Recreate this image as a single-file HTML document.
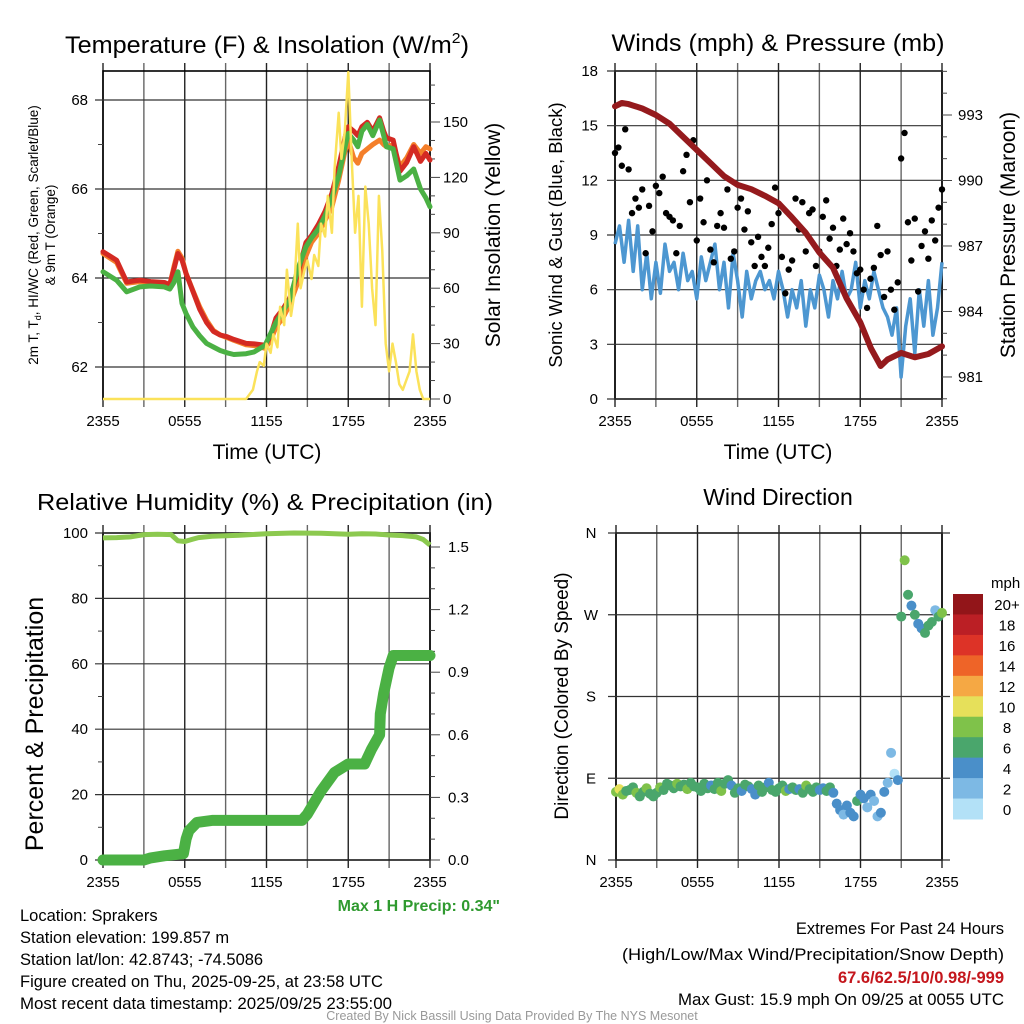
<!DOCTYPE html>
<html><head><meta charset="utf-8"><style>
html,body{margin:0;padding:0;background:#fff;}
svg{display:block;font-family:"Liberation Sans",sans-serif;}
</style></head><body>
<svg id="fig" width="1024" height="1024" viewBox="0 0 1024 1024" xmlns="http://www.w3.org/2000/svg">
<g text-anchor="middle" fill="#000">
<text x="267" y="53" font-size="24" textLength="404" lengthAdjust="spacingAndGlyphs">Temperature (F) &amp; Insolation (W/m<tspan font-size="15" dy="-10">2</tspan><tspan dy="10">)</tspan></text>
<text x="778" y="51" font-size="24.5" textLength="333" lengthAdjust="spacingAndGlyphs">Winds (mph) &amp; Pressure (mb)</text>
<text x="265" y="510" font-size="23.5" textLength="456" lengthAdjust="spacingAndGlyphs">Relative Humidity (%) &amp; Precipitation (in)</text>
<text x="778" y="505" font-size="23">Wind Direction</text>
</g>
<g font-size="16.5" fill="#000">
<text x="500" y="911" text-anchor="end" fill="#2f9a2f" font-weight="bold" font-size="16">Max 1 H Precip: 0.34"</text>
<text x="20" y="921">Location: Sprakers</text>
<text x="20" y="943">Station elevation: 199.857 m</text>
<text x="20" y="965">Station lat/lon: 42.8743; -74.5086</text>
<text x="20" y="987">Figure created on Thu, 2025-09-25, at 23:58 UTC</text>
<text x="20" y="1009" textLength="372" lengthAdjust="spacingAndGlyphs">Most recent data timestamp: 2025/09/25 23:55:00</text>
<text x="1004" y="934" text-anchor="end">Extremes For Past 24 Hours</text>
<text x="1004" y="960" text-anchor="end" textLength="382" lengthAdjust="spacingAndGlyphs">(High/Low/Max Wind/Precipitation/Snow Depth)</text>
<text x="1004" y="983" text-anchor="end" fill="#c4161c" font-weight="bold">67.6/62.5/10/0.98/-999</text>
<text x="1004" y="1005" text-anchor="end" textLength="326" lengthAdjust="spacingAndGlyphs">Max Gust: 15.9 mph On 09/25 at 0055 UTC</text>
<text x="512" y="1020" text-anchor="middle" font-size="12.5" fill="#999">Created By Nick Bassill Using Data Provided By The NYS Mesonet</text>
</g>
</svg>
<script>
// ---------- DATA ----------
const xTickLabels = ["2355","0555","1155","1755","2355"];
const tempTimes = [0,1,1.74,2.7,3.5,4.5,4.9,5.2,5.5,5.8,6.1,6.6,7.1,7.6,8.1,8.6,9.1,9.6,10.5,11.1,11.9,12.3,12.7,13.2,13.7,14.3,14.9,15.3,15.8,16.3,16.8,17.3,17.8,18,18.4,18.7,19,19.4,19.8,20.3,20.6,20.8,21.3,21.8,22.3,22.8,23.3,23.7,24];
const tempRed   = [64.59,64.4,63.91,63.95,63.92,63.9,63.85,64.2,64.55,64.4,64.1,63.7,63.3,63.0,62.8,62.72,62.68,62.62,62.53,62.52,62.49,62.7,63.1,63.3,63.55,64.1,64.8,64.95,65.2,65.5,65.9,66.5,67.2,67.4,67.3,67.2,67.4,67.5,67.3,67.6,67.3,67.15,67.1,66.4,66.6,66.95,66.62,66.8,66.65];
const tempOrange= [64.55,64.35,63.88,63.92,63.9,63.88,63.85,64.25,64.6,64.45,64.1,63.72,63.35,63.05,62.82,62.72,62.66,62.6,62.5,62.48,62.42,62.6,62.9,63.1,63.4,63.9,64.5,64.8,65.0,65.3,65.6,66.2,66.9,67.1,66.7,66.58,66.8,66.9,67.0,67.1,67.0,66.95,67.0,66.5,66.7,67.0,66.8,66.95,66.9];
const tempGreen = [64.14,63.95,63.69,63.8,63.82,63.8,63.75,63.9,64.14,63.43,63.2,62.9,62.7,62.53,62.45,62.37,62.32,62.28,62.3,62.34,62.49,62.75,63.0,63.25,63.5,64.2,64.7,64.9,65.1,65.4,65.8,66.3,67.0,67.25,67.1,66.95,67.3,67.45,67.2,67.55,67.2,66.95,66.9,66.2,66.3,66.45,66.0,65.8,65.6];
const solarTimes = [0,10.5,11,11.3,11.5,11.8,12,12.3,12.5,12.8,13,13.3,13.5,13.8,14,14.3,14.5,14.8,15,15.3,15.5,15.8,16,16.3,16.5,16.8,17,17.3,17.5,17.75,18,18.25,18.5,18.75,19,19.25,19.5,19.75,20,20.25,20.5,20.75,21,21.25,21.5,21.75,22,22.25,22.5,22.75,23,23.25,23.5,24];
const solarVals  = [0,0,5,15,20,18,30,25,35,28,50,40,70,45,55,95,60,70,75,65,78,72,95,88,110,90,125,155,130,145,177,130,90,110,50,115,95,60,40,110,80,30,15,30,20,8,5,10,15,35,15,5,0,0];
const windVals = [8.5,9.5,7.5,9.8,7,9.5,6,8,5.5,7.5,5.8,8.5,7,7.5,6,8,6.5,7,5.5,7.8,6.5,7.5,8.5,6,7.5,5,8,6.5,4.5,7,5.5,6.5,7,6,6.5,5.5,7,6,4.5,6,5,6.5,4,6,5,6.8,6,4.5,6.5,5.5,7,5.5,6,7.5,5,6.5,5.5,7,6,5,4.5,3.5,5,1.2,4,5.5,2.5,6,4,6.5,3.5,5,7.5];
const gustVals = [13.5,13.8,12.8,14.8,12.6,10.2,11,10.5,11.5,8,10.6,9.2,11.7,11.3,12.2,10.2,10,9.8,8,9.5,12.5,13.4,10.8,14.2,8.7,11,9.7,12,8.2,7.5,9.5,10.2,9.4,11.5,7.7,8.1,10.5,11,9.3,10.3,8.6,7.3,8.9,7.8,7.3,8.3,9.6,11.6,10.2,7.8,5.8,7.1,7.6,11,9.3,10.8,8.1,10.2,10.4,7.3,8.1,10,10.9,8.8,9.4,7.3,8.2,9.9,8.5,9.1,8.1,6.9,7.1,6,5,6.6,7.2,9.5,7.9,5.6,8.1,6,4.9,6.4,13.2,14.6,9.7,7.6,9.9,5.9,8.4,9.2,7.7,9.8,8.7,10.5,11.5];
const presTimes = [0,0.5,1,2,3,4,5,6,7,8,9,10,11,12,13,14,15,16,17,18,18.8,19.5,20,21,22,23,24];
const presVals  = [993.4,993.55,993.5,993.3,993.0,992.6,992.0,991.4,990.8,990.2,989.8,989.6,989.3,988.96,988.3,987.6,986.7,986.0,984.6,983.5,982.3,981.5,981.8,982.1,981.9,982.05,982.4];
const rhTimes = [0,1,2,3,4,5,5.5,6,6.5,7,8,10,12,14,16,18,19,20,21,22,23,23.5,24];
const rhVals  = [98.5,98.6,98.8,99.5,99.6,99.5,97.6,97.4,98.0,98.6,99.0,99.3,99.8,100,99.9,99.6,99.8,99.7,99.4,99.2,98.8,98,96.3];
const precipTimes = [0,3,3.5,4.5,5.9,6.1,6.3,6.9,8,12.5,14.6,15,16,17,18,19.2,19.7,20.3,20.35,20.6,21,21.3,24];
const precipVals  = [0,0,0.01,0.02,0.03,0.1,0.14,0.18,0.19,0.19,0.19,0.22,0.33,0.42,0.46,0.46,0.53,0.6,0.7,0.8,0.92,0.98,0.98];
const dirVals = [75,78,72,76,77,80,74,70,75,79,73,70,74,80,77,84,82,79,84,81,83,78,85,81,80,76,84,79,82,78,85,76,84,88,82,74,79,76,83,81,78,72,82,75,80,85,77,75,79,82,76,78,80,77,78,74,82,78,75,80,77,79,76,80,74,62,55,50,60,52,48,65,72,68,58,72,65,48,52,75,85,118,95,88,268,330,292,280,270,260,255,250,258,262,275,268,272];
const dirSpeeds = [8,10,9,7,7,6,8,7,6,8,7,6,6,8,7,6,7,6,8,7,6,8,7,6,7,6,7,6,4,7,6,8,7,6,4,6,7,4,6,7,4,5,6,7,6,5,7,6,7,6,8,4,6,7,5,6,8,6,6,7,4,5,6,7,4,5,4,3,4,5,4,6,4,5,2,4,2,3,5,4,2,2,1,4,6,8,7,4,6,5,4,7,6,7,3,6,8];
const legendLabels = ["20+","18","16","14","12","10","8","6","4","2","0"];
const legendColors = ["#921519","#bb1f25","#dd3327","#ee6428","#f5a844","#e6e05a","#7fc24a","#4aa66c","#4a8fc9","#7db9e4","#b3e1f7"];

// ---------- DRAWING ----------
const NS = "http://www.w3.org/2000/svg";
const fig = document.getElementById("fig");
function mk(tag, attrs, parent){ const e=document.createElementNS(NS,tag); for(const k in attrs) e.setAttribute(k,attrs[k]); (parent||fig).appendChild(e); return e; }
function txt(s, attrs, parent){ const e=mk("text",attrs,parent); e.textContent=s; return e; }
function pathFrom(ts, vs, fx, fy){ return ts.map((t,i)=>(i?"L":"M")+fx(t).toFixed(1)+" "+fy(vs[i]).toFixed(1)).join(""); }
function uniformTimes(n){ const a=[]; for(let i=0;i<n;i++) a.push(24*i/(n-1)); return a; }

function frame(g, x0, x1, y0, y1, name){
  for(let i=0;i<=8;i++){
    const x=x0+(x1-x0)*i/8;
    const l=mk("line",{x1:x,x2:x,y1:y0-8,y2:y1+8,stroke:(i%2==0)?"#222":"#666","stroke-width":1.4},g);
    
    
  }
  const r=mk("rect",{x:x0,y:y0,width:x1-x0,height:y1-y0,fill:"none",stroke:"#000","stroke-width":1.6},g);
  
  
  xTickLabels.forEach((s,i)=>{
    const t=txt(s,{x:x0+(x1-x0)*i/4,y:y1+27,"font-size":15,"text-anchor":"middle"},g);
    
    
  });
}
function hgrid(g,x0,x1,y,label,lx,anchor){
  const l=mk("line",{x1:x0-8,x2:x1,y1:y,y2:y,stroke:"#333","stroke-width":1.2},g);
  
  
  if(label!==null){
    const t=txt(label,{x:lx,y:y+5,"font-size":15,"text-anchor":anchor},g);
    
    
  }
}
function tick(g,x,y,len){ const l=mk("line",{x1:x,x2:x+len,y1:y,y2:y,stroke:"#444","stroke-width":1},g);
  
   }
function rtext(s,x,y,size,parent,name){
  const t=txt(s,{x:x,y:y,"font-size":size,"text-anchor":"middle",transform:`rotate(-90 ${x} ${y})`},parent);
  
  
  return t;
}

// ---- Panel 1: temperature ----
(function(){
  const g=mk("g",{});  
  const x0=103,x1=430,y0=71,y1=399;
  const fx=t=>x0+t/24*(x1-x0);
  const fy=v=>100+(68-v)*44.5;
  const fs=v=>y1-v*(y1-122)/150;
  frame(g,x0,x1,y0,y1,'temperature');
  [68,66,64,62].forEach(v=>hgrid(g,x0,x1,fy(v),String(v),88,"end"));
  [67,65,63].forEach(v=>tick(g,x0,fy(v),-5));
  [0,30,60,90,120,150].forEach(v=>{ tick(g,x1,fs(v),10); const t=txt(String(v),{x:443,y:fs(v)+5,"font-size":15},g);  });
  for(let v=10;v<=170;v+=10) if(v%30) tick(g,x1,fs(v),5);
  const lines=[[tempOrange,"#f47f2a","orange-9m-temp-line"],[tempRed,"#d42a23","red-2m-temp-line"],[tempGreen,"#4bb144","green-dewpoint-line"]];
  lines.forEach(([vals,c,n])=>{ const p=mk("path",{d:pathFrom(tempTimes,vals,fx,fy),fill:"none",stroke:c,"stroke-width":5,"stroke-linejoin":"round","stroke-linecap":"round"},g);
      });
  const s=mk("path",{d:pathFrom(solarTimes,solarVals,fx,fs),fill:"none",stroke:"#fbe25a","stroke-width":2.5,"stroke-linejoin":"round"},g);
   
  rtext("2m T, T",38,235,13.5,g,'left-y-axis-title-line1').innerHTML='2m T, T<tspan font-size="9" dy="3">d</tspan><tspan dy="-3">, HI/WC (Red, Green, Scarlet/Blue)</tspan>';
  rtext("& 9m T (Orange)",55,235,13.5,g,'left-y-axis-title-line2');
  rtext("Solar Insolation (Yellow)",500,235,21,g,'right-y-axis-title');
  const xt=txt("Time (UTC)",{x:267,y:459,"font-size":21,"text-anchor":"middle"},g);  
})();

// ---- Panel 2: winds ----
(function(){
  const g=mk("g",{});  
  const x0=615,x1=942,y0=71,y1=399;
  const fx=t=>x0+t/24*(x1-x0);
  const fy=v=>y1-v*(y1-y0)/18;
  const fp=p=>115+(993-p)*21.83;
  frame(g,x0,x1,y0,y1,'winds');
  [0,3,6,9,12,15,18].forEach(v=>hgrid(g,x0,x1,fy(v),String(v),598,"end"));
  [981,984,987,990,993].forEach(v=>{ tick(g,x1,fp(v),10); const t=txt(String(v),{x:958,y:fp(v)+5,"font-size":15},g);  });
  for(let v=980;v<=995;v++) if((v-981)%3) tick(g,x1,fp(v),5);
  const w=mk("path",{d:pathFrom(uniformTimes(windVals.length),windVals,fx,fy),fill:"none",stroke:"#4d97d1","stroke-width":3.5,"stroke-linejoin":"round"},g);
   
  const gt=uniformTimes(gustVals.length);
  gustVals.forEach((v,i)=>{ const c=mk("circle",{cx:fx(gt[i]),cy:fy(v),r:3.2,fill:"#000"},g);
      });
  const p=mk("path",{d:pathFrom(presTimes,presVals,fx,fp),fill:"none",stroke:"#951a1d","stroke-width":6,"stroke-linejoin":"round","stroke-linecap":"round"},g);
   
  rtext("Sonic Wind & Gust (Blue, Black)",562,235,18.5,g,'left-y-axis-title');
  rtext("Station Pressure (Maroon)",1015,235,21,g,'right-y-axis-title');
  const xt=txt("Time (UTC)",{x:778,y:459,"font-size":21,"text-anchor":"middle"},g);  
})();

// ---- Panel 3: RH & precip ----
(function(){
  const g=mk("g",{});  
  const x0=103,x1=430,y0=533,y1=860;
  const fx=t=>x0+t/24*(x1-x0);
  const fy=v=>y1-v*(y1-y0)/100;
  const fp=v=>y1-v*313/1.5;
  frame(g,x0,x1,y0,y1,'humidity');
  [0,20,40,60,80,100].forEach(v=>hgrid(g,x0,x1,fy(v),String(v),88,"end"));
  [10,30,50,70,90].forEach(v=>tick(g,x0,fy(v),-5));
  [0,0.3,0.6,0.9,1.2,1.5].forEach(v=>{ tick(g,x1,fp(v),10); const t=txt(v.toFixed(1),{x:448,y:fp(v)+5,"font-size":15},g);  });
  for(let v=0.1;v<1.55;v+=0.1) if(Math.round(v*10)%3) tick(g,x1,fp(v),5);
  const rh=mk("path",{d:pathFrom(rhTimes,rhVals,fx,fy),fill:"none",stroke:"#8cc94f","stroke-width":5,"stroke-linejoin":"round"},g);
   
  const pr=mk("path",{d:pathFrom(precipTimes,precipVals,fx,fp),fill:"none",stroke:"#4bb144","stroke-width":11,"stroke-linejoin":"round","stroke-linecap":"round"},g);
   
  rtext("Percent & Precipitation",43,724,25,g,'left-y-axis-title');
})();

// ---- Panel 4: wind direction ----
(function(){
  const g=mk("g",{});  
  const x0=616,x1=942,y0=533,y1=860;
  const fx=t=>x0+t/24*(x1-x0);
  const fy=v=>y1-v*(y1-y0)/360;
  frame(g,x0,x1,y0,y1,'wind-direction');
  [[0,"N"],[90,"E"],[180,"S"],[270,"W"],[360,"N"]].forEach(([v,s])=>hgrid(g,x0,x1+8,fy(v),s,591,"middle"));
  const dt=uniformTimes(dirVals.length);
  dirVals.forEach((d,i)=>{
    const bin=Math.min(10,Math.floor(dirSpeeds[i]/2));
    const c=mk("circle",{cx:fx(dt[i]),cy:fy(d),r:5,fill:legendColors[10-bin]},g);
     
  });
  rtext("Direction (Colored By Speed)",568,696,19,g,'left-y-axis-title');
  const lg=mk("g",{},g);  
  const ml=txt("mph",{x:991,y:588,"font-size":15},lg);  
  const by0=594,bh=(819-594)/11;
  legendLabels.forEach((s,i)=>{
    const r=mk("rect",{x:953,y:by0+i*bh,width:30,height:bh+0.5,fill:legendColors[i]},lg);
     
    const t=txt(s,{x:1007,y:by0+i*bh+bh/2+6,"font-size":15,"text-anchor":"middle"},lg);
     
  });
})();
</script>
</body></html>
